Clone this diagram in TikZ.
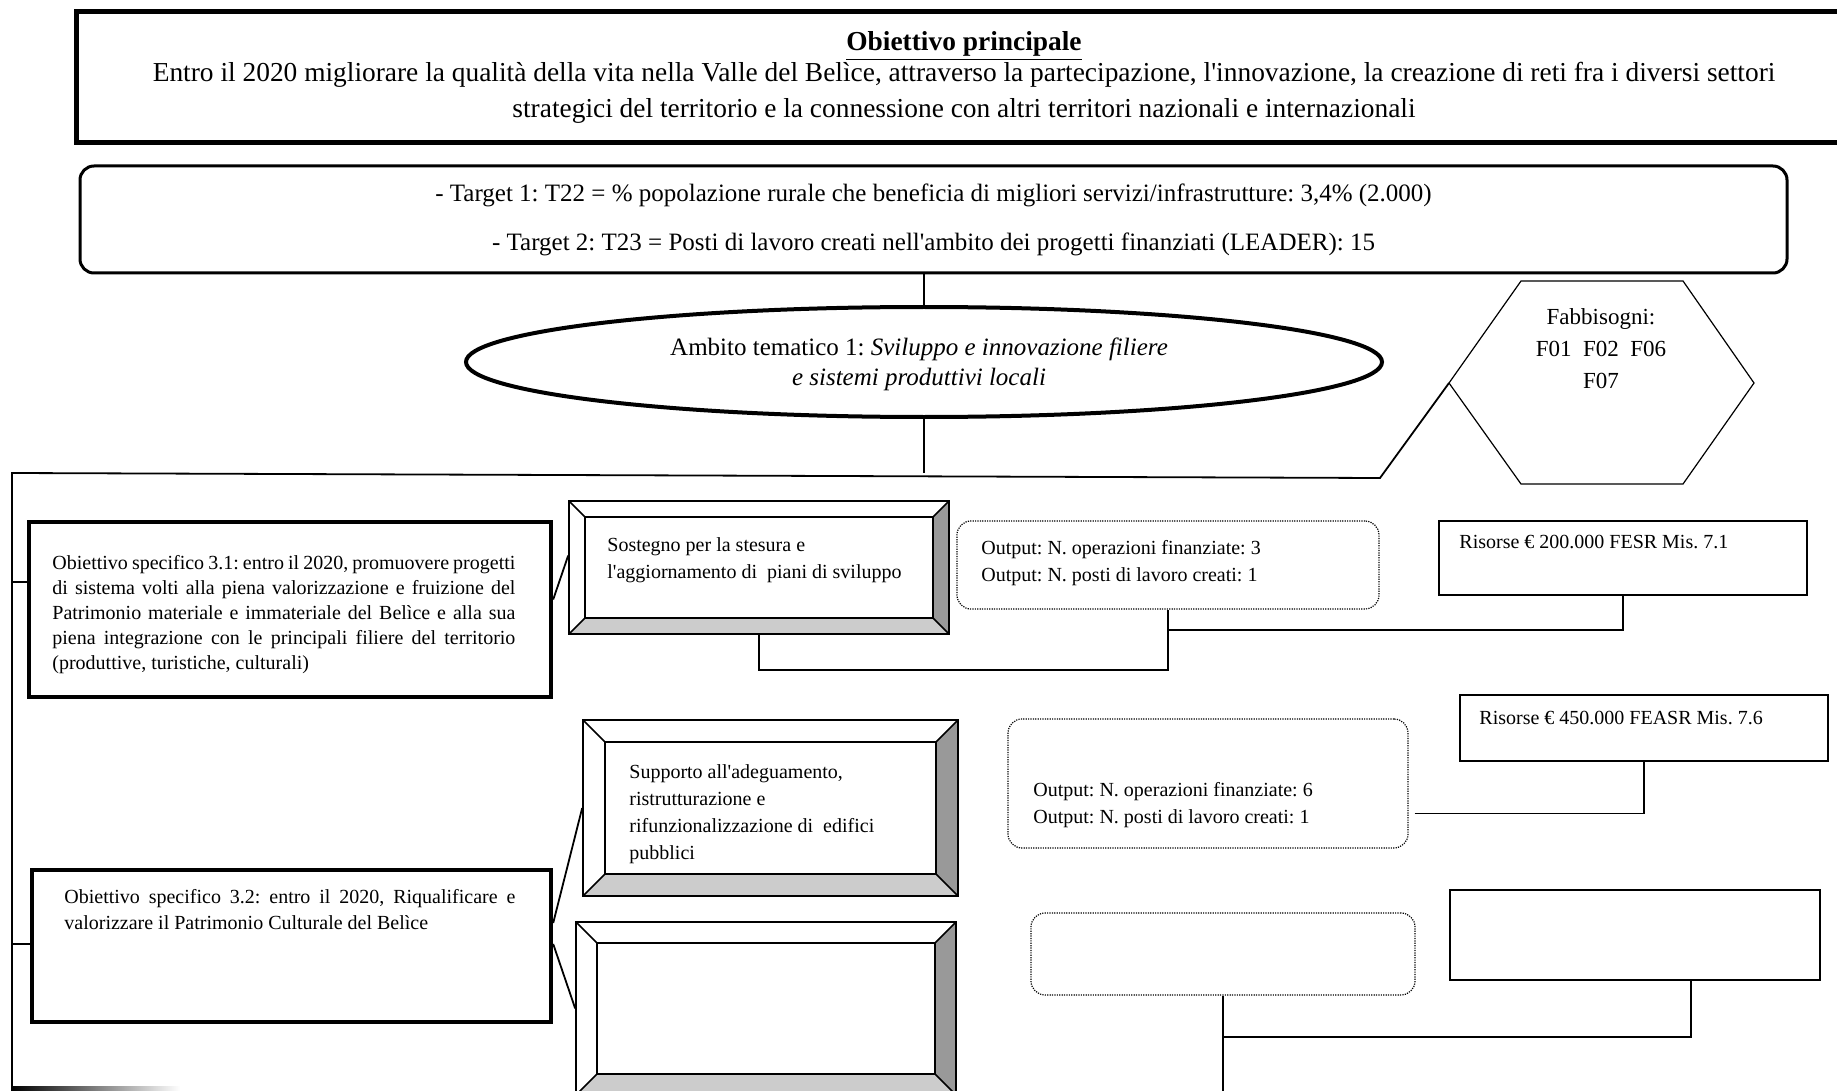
\documentclass[tikz,border=0pt]{standalone}
\usepackage{fontspec}
\setmainfont{Liberation Serif}
\usetikzlibrary{calc,shapes.geometric}
\definecolor{bevdark}{HTML}{999999}
\definecolor{bevlight}{HTML}{CCCCCC}

% straight apostrophe, kept out of the TeX quote mapping
\newcommand\apost{\XeTeXglyph\the\XeTeXcharglyph"0027\relax}
% one justified line of a given width
\newcommand\jline[2]{\makebox[#1][s]{#2}}

\tikzset{
  conn/.style={line width=0.9pt},
  bigfont/.style={font=\fontsize{13.7}{15.5}\selectfont},
  midfont/.style={font=\fontsize{12.5}{14}\selectfont},
  smallfont/.style={font=\fontsize{10}{13}\selectfont},
  textfont/.style={font=\fontsize{10}{13.5}\selectfont},
  objbox/.style={draw, line width=2.2pt, rectangle},
  outbox/.style={draw, line width=0.6pt, dash pattern=on 0.6pt off 0.6pt, rounded corners=7pt},
  resbox/.style={draw, line width=1.1pt},
  bevelbox/.style={draw, line width=0.8pt, fill=white,
    path picture={
      \coordinate (bv1) at (path picture bounding box.north west);
      \coordinate (bv2) at (path picture bounding box.north east);
      \coordinate (bv3) at (path picture bounding box.south east);
      \coordinate (bv4) at (path picture bounding box.south west);
      \coordinate (bw1) at ($(bv1)+(#1pt,-#1pt)$);
      \coordinate (bw2) at ($(bv2)+(-#1pt,-#1pt)$);
      \coordinate (bw3) at ($(bv3)+(-#1pt,#1pt)$);
      \coordinate (bw4) at ($(bv4)+(#1pt,#1pt)$);
      \fill[bevdark] (bv2) -- (bv3) -- (bw3) -- (bw2) -- cycle;
      \fill[bevlight] (bv4) -- (bv3) -- (bw3) -- (bw4) -- cycle;
      \draw[line width=0.8pt] (bw1) rectangle (bw3)
        (bv1) -- (bw1) (bv2) -- (bw2) (bv3) -- (bw3) (bv4) -- (bw4);
    }},
}

\begin{document}
\frenchspacing
\begin{tikzpicture}[x=0.5pt, y=-0.5pt, every node/.style={inner sep=0pt}]
\useasboundingbox (0,0) rectangle (1837,1091);
\clip (0,0) rectangle (1837,1091);

% main objective
\node[draw, line width=2.5pt, minimum width=888pt, minimum height=65.5pt,
      bigfont, align=center] (top) at (964,77.5)
  {\textbf{\underline{Obiettivo principale}}\\
   Entro il 2020 migliorare la qualità della vita nella Valle del Belìce, attraverso la partecipazione, l\apost innovazione, la creazione di reti fra i diversi settori\\[2.5pt]
   strategici del territorio e la connessione con altri territori nazionali e internazionali};

% targets
\node[draw, line width=1.5pt, rounded corners=7pt, minimum width=853.5pt,
      minimum height=53.5pt, midfont, align=center] (tgt) at (933.5,219.5)
  {- Target 1: T22 = \% popolazione rurale che beneficia di migliori servizi/infrastrutture: 3,4\% (2.000)\\[10.5pt]
   - Target 2: T23 = Posti di lavoro creati nell\apost ambito dei progetti finanziati (LEADER): 15};

% thematic area
\node[draw, ellipse, line width=2pt, minimum width=458pt, minimum height=55pt] (amb) at (924,362) {};
\node[font=\fontsize{12.5}{15}\selectfont, align=center] (ambt) at (919,364)
  {Ambito tematico 1: \textit{Sviluppo e innovazione filiere}\\
   \textit{e sistemi produttivi locali}};

% needs hexagon
\draw[line width=0.6pt] (1449,383) coordinate (hexW) -- (1521,281) -- (1683,281)
  -- (1754,383) -- (1683,484) -- (1521,484) -- cycle;
\node[font=\fontsize{11.5}{16}\selectfont, align=center] (hex) at (1601,349)
  {Fabbisogni:\\F01~~F02~~F06\\F07};

% specific objectives
\node[objbox, minimum width=261pt, minimum height=87.5pt] (o31) at (290,609.5) {};
\node[anchor=west, align=left, font=\fontsize{10}{12.5}\selectfont] (o31t) at (52,615)
  {\jline{231.5pt}{Obiettivo specifico 3.1: entro il 2020, promuovere progetti}\\
   \jline{231.5pt}{di sistema volti alla piena valorizzazione e fruizione del}\\
   \jline{231.5pt}{Patrimonio materiale e immateriale del Belìce e alla sua}\\
   \jline{231.5pt}{piena integrazione con le principali filiere del territorio}\\
   (produttive, turistiche, culturali)};

\node[objbox, minimum width=259.5pt, minimum height=76pt] (o32) at (291.5,946) {};
\node[anchor=west, align=left, font=\fontsize{10}{13}\selectfont] (o32t) at (64,910)
  {\jline{225.5pt}{Obiettivo specifico 3.2: entro il 2020, Riqualificare e}\\
   valorizzare il Patrimonio Culturale del Belìce};

% actions
\node[bevelbox=8, minimum width=190pt, minimum height=66.5pt] (A) at (759,567.5) {};
\node[anchor=west, align=left, textfont] (At) at (607,560)
  {Sostegno per la stesura e\\l\apost aggiornamento di \ piani di sviluppo};
\node[bevelbox=11, minimum width=187.5pt, minimum height=88pt] (B) at (770.5,808) {};
\node[anchor=west, align=left, textfont] (Bt) at (629,814)
  {Supporto all\apost adeguamento,\\ristrutturazione e\\rifunzionalizzazione di \ edifici\\pubblici};
\node[bevelbox=10.5, minimum width=190pt, minimum height=86.5pt] (C) at (766,1008.5) {};

% outputs
\node[outbox, minimum width=211pt, minimum height=44pt] (out1) at (1168,565) {};
\node[anchor=west, align=left, textfont] (out1t) at (981,563)
  {Output: N. operazioni finanziate: 3\\Output: N. posti di lavoro creati: 1};
\node[outbox, minimum width=200pt, minimum height=64.5pt] (out2) at (1208,783.5) {};
\node[anchor=west, align=left, textfont] (out2t) at (1033,805)
  {Output: N. operazioni finanziate: 6\\Output: N. posti di lavoro creati: 1};
\node[outbox, minimum width=192pt, minimum height=41pt] (out3) at (1223,954) {};

% resources
\node[resbox, minimum width=184pt, minimum height=37pt] (ris1) at (1623,558) {};
\node[anchor=west, smallfont] (ris1t) at (1459,542) {Risorse € 200.000 FESR Mis. 7.1};
\node[resbox, minimum width=184pt, minimum height=33pt] (ris2) at (1644,728) {};
\node[anchor=west, smallfont] (ris2t) at (1479,718) {Risorse € 450.000 FEASR Mis. 7.6};
\node[resbox, minimum width=185pt, minimum height=45pt] (ris3) at (1635,935) {};

% connectors
\coordinate (busL) at (12,473);
\coordinate (busR) at (1380,478);
\coordinate (busB) at (12,1095);
\draw[conn] (amb.north) -- (amb.north |- tgt.south);
\draw[conn] (amb.south) -- (amb.south |- busL);
\draw[conn] (busB) -- (busL) -- (busR) -- (hexW);

\coordinate (t31) at (12,582);
\coordinate (t32) at (12,944);
\draw[conn] (t31) -- (t31 -| o31.west);
\draw[conn] (t32) -- (t32 -| o32.west);

\draw[conn] ($(o31.east)+(0,-10)$) -- ($(A.west)+(0,-12)$);
\draw[conn] ($(o32.east)+(0,-23)$) -- (B.west);
\draw[conn] ($(o32.east)+(0,-2)$) -- (C.west);

\draw[conn] (A.south) -- ($(A.south)+(0,35)$) -| (out1.south);
\draw[conn] (ris1.south) |- ($(out1.south)+(0,20)$);
\draw[conn] ($(out2.east)+(6,30)$) -| (ris2.south);
\draw[conn] (out3.south) -- (out3.south |- busB);
\draw[conn] ($(out3.south)+(0,41)$) -| ($(ris3.south)+(56,0)$);

% shaded edge at the lower left
\shade[left color=black, right color=white] (12,1086) rectangle (180,1090);
\end{tikzpicture}
\end{document}
